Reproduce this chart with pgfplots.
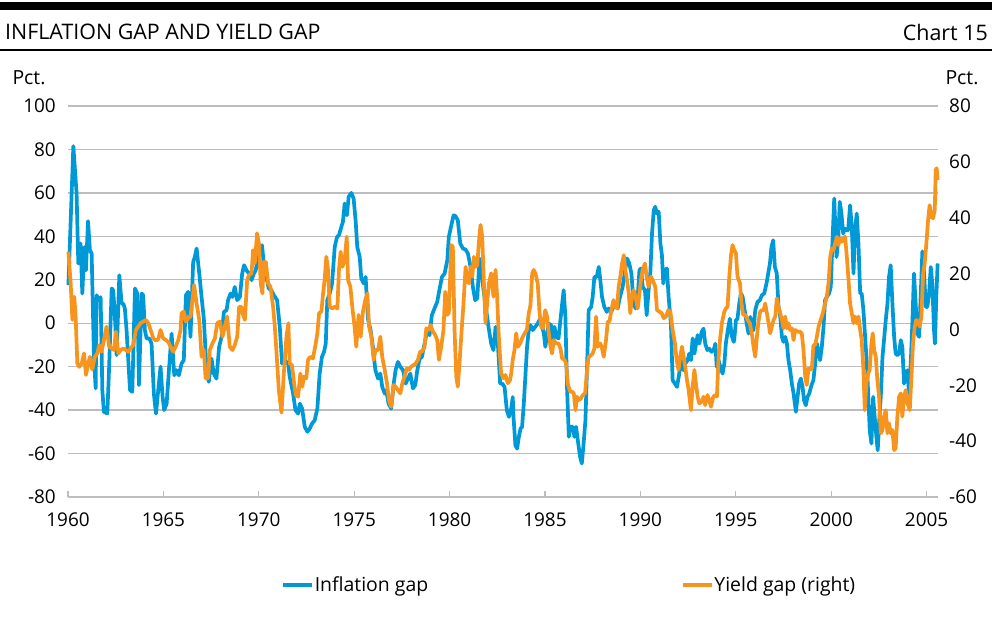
\documentclass[border=0pt]{standalone}
\usepackage{pgfplots}
\pgfplotsset{compat=1.18}
\usepackage{fontspec}
\setmainfont{Open Sans}
\definecolor{infl}{HTML}{0099D8}
\definecolor{yld}{HTML}{F7941D}
\definecolor{gridc}{HTML}{BDBDBD}
\pgfplotstableread{
x y
1960.02 17.5
1960.28 81.5
1960.45 59.7
1960.54 27.5
1960.66 36.7
1960.75 13.7
1960.86 35
1960.94 24.4
1961.05 47
1961.15 33.6
1961.24 32
1961.36 -15.5
1961.45 -30
1961.50 12.9
1961.62 10.6
1961.71 12
1961.80 -30.8
1961.88 -40.8
1962.06 -41.6
1962.15 -21.6
1962.29 16
1962.37 15.2
1962.46 2.9
1962.55 -14.7
1962.69 22.1
1962.81 9
1962.90 9
1962.98 6.8
1963.07 -3.2
1963.25 -30.8
1963.37 -31.6
1963.51 16
1963.63 13.7
1963.72 -28.5
1963.86 13.7
1963.94 12.9
1964.03 -3.2
1964.12 -7
1964.26 -7
1964.38 -9.4
1964.50 -32.4
1964.61 -41.6
1964.73 -30.8
1964.85 -20
1964.96 -34
1965.04 -40
1965.17 -37
1965.29 -21.6
1965.43 -4.8
1965.57 -24
1965.69 -21.6
1965.81 -24
1965.95 -18.6
1966.07 -17
1966.18 12.9
1966.30 14.4
1966.42 -6.3
1966.56 28.2
1966.65 30.5
1966.74 34.4
1966.88 22.9
1967.00 12.1
1967.12 2.1
1967.26 -21.6
1967.38 -27
1967.52 -16.3
1967.64 -23.2
1967.78 -25.5
1967.92 -10.9
1968.05 -6.3
1968.17 5.2
1968.31 6
1968.39 10.6
1968.52 13.7
1968.62 12.1
1968.74 16.7
1968.87 10.6
1969.01 12.1
1969.13 22.9
1969.23 26.7
1969.35 24.4
1969.49 22.9
1969.62 19.8
1969.74 22.9
1969.84 24.4
1969.97 31.3
1970.05 32
1970.17 35.9
1970.26 27.5
1970.40 21.3
1970.52 16
1970.66 15.2
1970.79 12.9
1970.96 10.6
1971.10 -1.7
1971.22 -18.6
1971.36 -17
1971.54 -18.6
1971.62 -24.7
1971.80 -32.4
1971.92 -40
1972.06 -41.6
1972.15 -37
1972.27 -39.3
1972.41 -47.7
1972.55 -50
1972.67 -48.5
1972.79 -46.2
1972.93 -44.7
1973.07 -39.3
1973.19 -23.2
1973.31 -15.5
1973.42 -13.2
1973.51 -9.4
1973.59 10.6
1973.72 13.7
1973.84 18.3
1973.98 35.1
1974.10 39.7
1974.20 40.5
1974.33 44.4
1974.41 46.7
1974.50 55.1
1974.62 49.7
1974.71 58.2
1974.85 60
1974.97 57.4
1975.08 46.7
1975.16 35.1
1975.29 30.5
1975.37 20.6
1975.50 18.3
1975.60 21.3
1975.72 2.1
1975.86 -3.2
1975.98 -10.9
1976.11 -21.6
1976.25 -25.5
1976.37 -23.2
1976.47 -29.3
1976.60 -32.4
1976.68 -30.8
1976.80 -37
1976.94 -39.3
1977.07 -27.8
1977.17 -21.6
1977.29 -17.8
1977.42 -20.1
1977.56 -21.6
1977.70 -27.8
1977.82 -25.5
1977.94 -23.2
1978.08 -30
1978.20 -28.5
1978.31 -21.6
1978.43 -16.3
1978.55 -15.5
1978.69 -9.4
1978.81 -4
1978.95 -5.5
1979.07 3.7
1979.21 6.8
1979.35 9.8
1979.48 16
1979.60 21.3
1979.74 22.9
1979.88 29
1979.96 39.7
1980.09 45.1
1980.21 49.7
1980.31 49.3
1980.43 47.4
1980.56 36.7
1980.70 34.4
1980.84 33.9
1980.96 32.1
1981.10 25.9
1981.22 16.7
1981.34 10.6
1981.45 11.4
1981.57 29.8
1981.66 24.4
1981.78 15.2
1981.92 6
1982.04 -1.7
1982.18 -9.4
1982.30 -12.4
1982.41 -1.7
1982.53 -9.4
1982.65 -27.8
1982.76 -27.8
1982.88 -29.3
1983.00 -40
1983.11 -43.1
1983.23 -39.3
1983.31 -34
1983.35 -43.1
1983.45 -56.2
1983.54 -57.7
1983.63 -52.3
1983.72 -48.5
1983.80 -47.7
1983.89 -37
1983.98 -23.2
1984.06 -10.9
1984.15 -3.2
1984.24 -0.9
1984.36 -3.2
1984.48 -1.7
1984.62 -0.2
1984.75 2.1
1984.85 -1.7
1984.94 -4.8
1985.02 -10.9
1985.11 -4.8
1985.20 -0.2
1985.32 -0.9
1985.41 -9.4
1985.50 -1.7
1985.58 -6.3
1985.71 -7
1985.81 1.4
1985.90 9
1985.98 15.2
1986.07 2.9
1986.16 -30.8
1986.25 -52.3
1986.33 -47.7
1986.46 -47.7
1986.54 -52.3
1986.63 -47.7
1986.72 -53.9
1986.84 -61.5
1986.93 -64.6
1987.01 -56.9
1987.12 -44.7
1987.21 -18.6
1987.29 6
1987.42 7.5
1987.50 12.1
1987.59 21.3
1987.71 21.3
1987.82 25.9
1987.90 19.8
1987.99 12.1
1988.11 7.5
1988.24 5.2
1988.34 6.8
1988.46 5.2
1988.59 7.5
1988.69 8.3
1988.81 6.8
1988.93 12.1
1989.07 16.7
1989.20 24.4
1989.30 29.8
1989.42 27.5
1989.53 22.9
1989.63 10.6
1989.74 6.8
1989.86 12.1
1989.95 24.4
1990.03 25.2
1990.12 16.7
1990.24 15.2
1990.33 3.7
1990.43 15.2
1990.52 22.9
1990.61 41.3
1990.70 52
1990.78 53.6
1990.87 50.5
1990.96 51.3
1991.05 36.7
1991.13 31.3
1991.20 18.3
1991.29 24.4
1991.39 25.2
1991.48 12.1
1991.60 -0.2
1991.69 -26.2
1991.81 -27.8
1991.92 -29.3
1992.01 -24.7
1992.13 -17
1992.25 -21.6
1992.35 -18.6
1992.48 -17
1992.56 -14
1992.65 -17
1992.74 -7
1992.83 -14
1992.91 -10.1
1993.00 -5.5
1993.09 -9.4
1993.21 -4
1993.31 -2.5
1993.40 -9.4
1993.51 -12.4
1993.61 -11.7
1993.73 -13.2
1993.84 -12.4
1993.93 -9.4
1994.00 -20.1
1994.10 -17
1994.19 -20.1
1994.31 -23.2
1994.40 -18.6
1994.48 -9.4
1994.61 -1.7
1994.69 2.1
1994.78 -5.5
1994.89 -8.6
1994.92 -7.8
1995.01 1.4
1995.09 2.1
1995.18 9
1995.27 13.7
1995.36 12.1
1995.44 7.5
1995.57 -0.2
1995.67 -4.8
1995.76 2.9
1995.84 -1.7
1995.93 -3.2
1996.02 6
1996.14 9.8
1996.26 10.6
1996.37 12.9
1996.49 13.7
1996.61 18.3
1996.70 22.9
1996.79 27.5
1996.87 35.1
1996.96 38.2
1997.05 25.9
1997.15 22.9
1997.24 7.5
1997.33 2.9
1997.42 -6.3
1997.50 -8.6
1997.59 -6.3
1997.68 -9.4
1997.76 -17
1997.85 -21.6
1997.94 -27.8
1998.03 -32.4
1998.15 -40.8
1998.24 -33.9
1998.32 -27.8
1998.41 -25.5
1998.50 -29.3
1998.58 -35.5
1998.67 -37.8
1998.76 -33.9
1998.85 -32.4
1998.97 -28.5
1999.07 -26.2
1999.16 -18.6
1999.25 -9.4
1999.34 -13.2
1999.42 -17
1999.51 -10.9
1999.60 -1.7
1999.68 10.6
1999.77 12.1
1999.89 13.7
1999.98 16.7
2000.07 38.2
2000.16 57.4
2000.21 45.9
2000.28 30.5
2000.37 38.2
2000.45 55.9
2000.54 50.5
2000.63 41.3
2000.71 43.6
2000.80 42.8
2000.89 42.8
2000.99 54.3
2001.08 44.4
2001.17 22.9
2001.25 42.8
2001.34 50.5
2001.43 36.7
2001.52 13.7
2001.60 13.7
2001.69 6
2001.78 -6.3
2001.87 -18.6
2001.94 -32.4
2002.02 -49.3
2002.11 -55.4
2002.20 -33.9
2002.28 -43.1
2002.37 -52.3
2002.44 -58.5
2002.53 -43.1
2002.60 -33.9
2002.69 -15.5
2002.77 -7.8
2002.86 1.4
2002.95 9
2003.03 21.3
2003.12 26.7
2003.21 9
2003.30 -6.3
2003.38 -14
2003.47 -14.7
2003.56 -14
2003.65 -7.8
2003.73 -10.9
2003.82 -27.8
2003.91 -24.7
2004.00 -21.6
2004.08 -32.4
2004.17 -18.6
2004.26 1.4
2004.34 22.9
2004.43 9
2004.52 -4.8
2004.61 -6.3
2004.69 12.1
2004.78 33.1
2004.87 22.9
2004.96 7.5
2005.04 7.5
2005.13 13.7
2005.22 25.9
2005.30 18.3
2005.39 -3.2
2005.44 -9.4
2005.51 12.1
2005.58 27.5
}\inflation
\pgfplotstableread{
x y
1960.02 27.8
1960.14 16.5
1960.23 3.4
1960.33 11.7
1960.40 4.6
1960.49 -12.2
1960.59 -13.4
1960.72 -12.2
1960.84 -8.6
1960.94 -16.3
1961.06 -12.2
1961.15 -9.8
1961.27 -14.3
1961.41 -9.8
1961.54 -8.6
1961.64 -5.6
1961.76 -8
1961.88 -3.8
1962.02 1
1962.16 -6.2
1962.29 -6.8
1962.41 -7.4
1962.51 -0.8
1962.64 -8.6
1962.76 -7.4
1962.90 -6.8
1963.04 -7.4
1963.16 -8
1963.28 -6.8
1963.42 -5.6
1963.56 -0.2
1963.68 1
1963.80 2.2
1963.94 2.8
1964.08 3.4
1964.21 2.2
1964.33 -0.2
1964.47 -3.2
1964.61 -4
1964.73 -3.5
1964.85 -0.2
1964.99 -3.2
1965.13 -3.8
1965.25 -4.4
1965.38 -6.2
1965.51 -8
1965.64 -6.2
1965.78 -3.8
1965.90 -0.2
1965.95 5.8
1966.07 6.4
1966.18 2.8
1966.30 4
1966.42 4.6
1966.53 11.1
1966.61 15.9
1966.74 9.3
1966.88 3.4
1967.00 -9.8
1967.12 -7.4
1967.21 -17.5
1967.35 -17.5
1967.43 -7.4
1967.57 -5
1967.70 -3.2
1967.82 2.2
1967.96 2.8
1968.10 -2.6
1968.22 1
1968.34 4.6
1968.48 -6.2
1968.62 -7.4
1968.74 -5.6
1968.87 -2.6
1968.97 8.1
1969.09 8.1
1969.18 5.2
1969.27 3.4
1969.39 17.7
1969.49 19.5
1969.62 20.1
1969.70 28.4
1969.79 23.7
1969.91 34.4
1970.02 30.2
1970.10 16.5
1970.19 12.9
1970.26 24.2
1970.37 24.2
1970.49 16.5
1970.61 15.3
1970.75 8.1
1970.84 1
1970.92 -7.4
1971.05 -21.7
1971.19 -29.8
1971.31 -15.8
1971.45 -2.6
1971.55 2.2
1971.62 -12.2
1971.74 -12.8
1971.85 -19.3
1971.94 -23.5
1972.06 -24.1
1972.18 -15.8
1972.28 -20.5
1972.37 -16.9
1972.49 -17.5
1972.58 -10.9
1972.70 -9.8
1972.84 -10.4
1972.97 -5.6
1973.07 -1.4
1973.16 5.8
1973.28 6.4
1973.37 12.9
1973.45 17.7
1973.54 26
1973.63 21.3
1973.72 8.1
1973.84 7.5
1973.98 8.1
1974.12 7.5
1974.20 21.3
1974.29 27.8
1974.38 22.4
1974.50 24.8
1974.61 33.2
1974.68 17.7
1974.80 15.3
1974.90 8.1
1975.02 1
1975.11 -6.2
1975.23 5.2
1975.34 -2.6
1975.46 6.4
1975.58 10.5
1975.69 12.9
1975.78 1
1975.90 -2.6
1976.02 -10.9
1976.12 -7.4
1976.25 -7.4
1976.37 -2.6
1976.47 -9.8
1976.60 -14.5
1976.72 -19.3
1976.82 -25.3
1976.94 -27.7
1977.07 -19.9
1977.17 -20.5
1977.29 -21.7
1977.42 -22.9
1977.52 -19.3
1977.64 -16.9
1977.76 -13.9
1977.87 -14.5
1977.99 -13.3
1978.11 -12.8
1978.22 -12.2
1978.34 -10.9
1978.46 -7.9
1978.57 -7.9
1978.69 -6.2
1978.78 0.4
1978.90 -0.2
1979.00 1.6
1979.13 -0.8
1979.25 -2
1979.35 -3.8
1979.44 -10.9
1979.56 -6.2
1979.68 -0.2
1979.77 13.5
1979.86 5.2
1979.96 5.8
1980.09 30.2
1980.17 29.6
1980.26 -0.2
1980.35 -16.9
1980.43 -20.5
1980.52 -12.2
1980.61 -2.6
1980.73 9.3
1980.84 22.4
1980.92 17.7
1981.01 16.5
1981.10 22.4
1981.19 18.9
1981.27 26
1981.36 22.4
1981.45 23
1981.53 30.8
1981.62 37.4
1981.71 33.2
1981.80 16.5
1981.88 2.2
1981.97 9.3
1982.06 16.5
1982.18 20.1
1982.30 11.7
1982.41 21.3
1982.49 11.7
1982.58 -2.6
1982.70 -15.8
1982.83 -17.5
1982.93 -16.3
1983.05 -19.3
1983.17 -18.1
1983.23 -15.8
1983.31 -10.9
1983.40 -7.4
1983.49 -1.4
1983.58 -6.2
1983.70 -5
1983.80 -3.2
1983.93 -1.4
1984.05 -0.2
1984.15 5.8
1984.24 8.7
1984.33 20.1
1984.41 21.3
1984.50 20.1
1984.62 16.5
1984.71 6.4
1984.80 1
1984.89 0.4
1985.01 6.9
1985.11 4.6
1985.20 -1.4
1985.29 -6.2
1985.37 -8.6
1985.46 -3.8
1985.58 -5
1985.71 -5
1985.81 -6.8
1985.90 -10.4
1986.02 -10.9
1986.11 -12.2
1986.19 -19.3
1986.32 -22.3
1986.42 -22.3
1986.51 -22.9
1986.60 -28.9
1986.68 -24.1
1986.77 -25.3
1986.89 -24.7
1986.98 -23.5
1987.10 -22.9
1987.21 -14.5
1987.29 -9.8
1987.42 -9.2
1987.50 -8.6
1987.59 -6.8
1987.68 4.6
1987.76 -6.2
1987.89 -5
1987.97 -6.2
1988.08 -9.8
1988.20 -3.8
1988.29 2.8
1988.38 2.8
1988.48 6.9
1988.59 10.5
1988.69 8.1
1988.78 7.5
1988.86 15.3
1988.95 18.9
1989.04 23.6
1989.13 26.6
1989.21 21.3
1989.30 17.7
1989.39 12.9
1989.47 5.8
1989.56 11.7
1989.65 14.1
1989.74 11.7
1989.86 7.5
1989.95 12.9
1990.03 17.7
1990.12 21.3
1990.24 23.6
1990.33 18.9
1990.43 15.3
1990.56 18.9
1990.68 17.1
1990.78 15.3
1990.87 6.9
1990.99 6.4
1991.12 5.8
1991.22 4
1991.34 4.6
1991.46 6.9
1991.57 6.4
1991.69 -0.2
1991.81 -5
1991.90 -10.9
1992.00 -14.5
1992.09 -9.8
1992.18 -6.2
1992.27 -9.8
1992.35 -13.4
1992.44 -18.1
1992.53 -21.7
1992.65 -28.9
1992.74 -20.5
1992.83 -14.5
1992.91 -19.3
1993.00 -24.1
1993.09 -26.5
1993.21 -25.9
1993.31 -24.1
1993.40 -27.1
1993.52 -23.5
1993.61 -25.3
1993.70 -27.7
1993.82 -24.1
1993.93 -23.5
1994.01 -24.1
1994.10 -9.8
1994.19 -2.6
1994.27 2.2
1994.40 6.4
1994.48 7.5
1994.57 8.1
1994.66 18.9
1994.75 26.6
1994.83 30.2
1994.92 28.4
1995.01 27.2
1995.09 18.9
1995.22 16.5
1995.30 9.3
1995.39 5.2
1995.50 5.2
1995.62 3.4
1995.74 2.2
1995.84 -1.4
1995.93 -6.2
1996.02 -9.8
1996.11 -2.6
1996.19 2.8
1996.28 6.4
1996.37 6.9
1996.46 6.9
1996.54 9.3
1996.63 5.8
1996.72 2.2
1996.80 -1.4
1996.89 1
1996.98 3.4
1997.07 4.6
1997.15 11.1
1997.24 8.1
1997.33 5.8
1997.42 3.4
1997.50 0.4
1997.59 4.6
1997.68 0.4
1997.76 2.2
1997.85 -0.2
1997.94 0.4
1998.03 -3.8
1998.11 -0.2
1998.24 -0.8
1998.36 -0.8
1998.46 -1.4
1998.55 -7.4
1998.64 -16.9
1998.72 -19.9
1998.81 -13.9
1998.90 -14.5
1998.99 -13.9
1999.07 -5.6
1999.16 -5.6
1999.25 -2.6
1999.34 1
1999.42 2.8
1999.51 4.6
1999.60 6.9
1999.68 9.3
1999.77 11.7
1999.86 16.5
1999.95 26
2000.03 29
2000.12 28.4
2000.21 30.8
2000.30 33.2
2000.38 30.2
2000.47 32.6
2000.56 31.4
2000.64 32.6
2000.73 33.2
2000.82 26
2000.91 17.7
2000.99 9.3
2001.08 5.8
2001.17 2.2
2001.25 4.6
2001.34 2.2
2001.43 4.6
2001.52 -0.2
2001.60 -3.8
2001.69 -14.5
2001.76 -28.9
2001.85 -19.3
2001.94 -15.8
2002.02 -14.5
2002.11 -5
2002.18 -1.4
2002.25 -7.4
2002.34 -9.8
2002.42 -18.1
2002.51 -24.1
2002.60 -37.2
2002.69 -36
2002.77 -31.2
2002.86 -28.9
2002.95 -37.2
2003.03 -33.6
2003.12 -37.2
2003.21 -36
2003.30 -43.2
2003.38 -42.6
2003.47 -31.2
2003.56 -24.1
2003.65 -22.9
2003.73 -31.2
2003.82 -24.1
2003.91 -21.7
2004.00 -26.5
2004.12 -28.9
2004.20 -18.1
2004.29 -5
2004.38 1
2004.47 3.4
2004.55 2.8
2004.64 1
2004.73 4.6
2004.82 20.1
2004.90 23.6
2004.99 30.8
2005.08 39.2
2005.16 44.5
2005.25 40.4
2005.34 39.8
2005.43 42.8
2005.48 57.1
2005.53 57.7
2005.58 53.5
}\yieldgap
\begin{document}
\begin{tikzpicture}[x=1bp,y=1bp]
\path[use as bounding box] (0,0) rectangle (992,626);
\fill[black] (0,616) rectangle (992,624);
\node[anchor=west, inner sep=0pt, font=\fontsize{21.5}{24}\selectfont] at (5,594) {INFLATION GAP AND YIELD GAP};
\node[anchor=east, inner sep=0pt, font=\fontsize{21.5}{24}\selectfont] at (988,594) {Chart 15};
\draw[line width=2bp] (0,576) -- (992,576);
\node[inner sep=0pt, font=\fontsize{19.5}{22}\selectfont] at (29,548) {Pct.};
\node[inner sep=0pt, font=\fontsize{19.5}{22}\selectfont] at (962,548) {Pct.};
\begin{axis}[
  at={(68bp,129bp)}, anchor=south west, scale only axis,
  width=870bp, height=391bp,
  xmin=1960, xmax=2005.6, ymin=-80, ymax=100,
  xtick={1960,1965,...,2005}, ytick={-80,-60,...,100},
  axis line style={draw=none},
  ymajorgrids, grid style={gridc, line width=1.4bp},
  tick align=inside, major tick length=6bp,
  xtick pos=bottom, xtick style={gridc, line width=1.2bp},
  ytick style={draw=none},
  tick label style={font=\fontsize{19}{22}\selectfont, inner sep=0pt},
  xticklabel style={anchor=north, yshift=-16bp},
  yticklabel style={anchor=east, xshift=-12bp},
  /pgf/number format/assume math mode=true,
  /pgf/number format/1000 sep={},
  clip=false,
]
\addplot[infl, line width=3.7bp, line join=round] table[x=x,y=y] {\inflation};
\end{axis}
\begin{axis}[
  at={(68bp,129bp)}, anchor=south west, scale only axis,
  width=870bp, height=391bp,
  xmin=1960, xmax=2005.6, ymin=-60, ymax=80,
  hide x axis,
  axis y line*=right, axis line style={draw=none},
  ytick={-60,-40,...,80}, ytick style={draw=none},
  tick label style={font=\fontsize{19}{22}\selectfont, inner sep=0pt},
  yticklabel style={anchor=west, xshift=11bp},
  /pgf/number format/assume math mode=true,
  clip=false,
  legend columns=2,
  legend style={at={(0.2448,-0.225)}, anchor=west, draw=none, fill=none,
    font=\fontsize{19.5}{22}\selectfont, inner sep=0pt,
    nodes={inner sep=0.6bp},
    /tikz/every even column/.append style={column sep=252bp}},
  legend image code/.code={\draw[#1, line width=4bp] (0bp,0bp) -- (29bp,0bp);},
]
\addlegendimage{infl}
\addlegendentry{Inflation gap}
\addplot[yld, line width=3.7bp, line join=round] table[x=x,y=y] {\yieldgap};
\addlegendentry{Yield gap (right)}
\end{axis}
\end{tikzpicture}
\end{document}
